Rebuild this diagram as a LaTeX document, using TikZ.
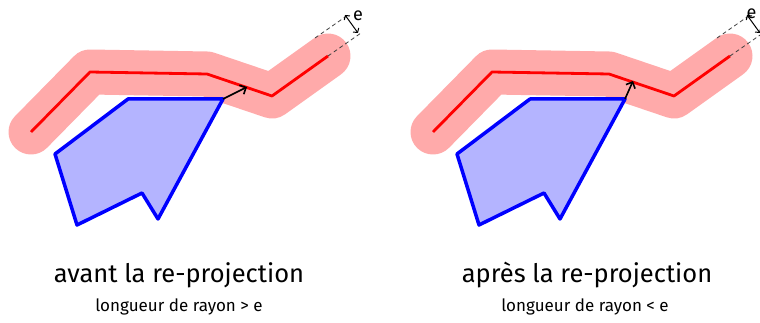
\documentclass[tikz,border=0pt]{standalone}
\usepackage{fontspec}
\setmainfont{Fira Sans}
\usetikzlibrary{arrows.meta,positioning}
\definecolor{bandpink}{RGB}{255,170,170}
\definecolor{polyfill}{RGB}{180,180,255}

\begin{document}
\begin{tikzpicture}[
    x=1pt, y=-1pt,
    band/.style={bandpink, line width=45pt, line cap=round, line join=round},
    path/.style={red, line width=2.8pt, line join=round},
    poly/.style={blue, fill=polyfill, line width=3.5pt, line join=round},
    ray/.style={-{Straight Barb[length=5pt,width=10pt]}, line width=1.6pt},
    guide/.style={dash pattern=on 4pt off 3pt, line width=0.8pt, black!75},
    dim/.style={{Straight Barb[length=3pt,width=7pt]}-{Straight Barb[length=3pt,width=7pt]}, line width=1pt},
    elabel/.style={font=\fontsize{18}{20}\selectfont},
    title/.style={font=\fontsize{25.5}{28}\selectfont, anchor=base},
    subtitle/.style={font=\fontsize{17}{20}\selectfont, anchor=base}
]
    \useasboundingbox (0,0) rectangle (760,323);

    % avant la re-projection
    \begin{scope}
        \coordinate (a1) at (31,132);
        \coordinate (a2) at (90,72);
        \coordinate (a3) at (207,74);
        \coordinate (a4) at (272,96);
        \coordinate (a5) at (328,56);
        \coordinate (p1) at (55,154);
        \coordinate (p2) at (128,99);
        \coordinate (p3) at (223,99);
        \coordinate (p4) at (158,219);
        \coordinate (p5) at (142,193);
        \coordinate (p6) at (77,225);
        \coordinate (hit) at (247,87);
        \coordinate (u0) at (315,38);
        \coordinate (u1) at (348,15);
        \coordinate (v1) at (361,33);
        \coordinate (du) at (345,15);
        \coordinate (dv) at (358,33);

        \draw[band] (a1) -- (a2) -- (a3) -- (a4) -- (a5);
        \draw[path] (a1) -- (a2) -- (a3) -- (a4) -- (a5);
        \draw[poly] (p1) -- (p2) -- (p3) -- (p4) -- (p5) -- (p6) -- cycle;
        \draw[ray] (p3) -- (hit);
        \draw[guide] (u0) -- (u1);
        \draw[guide] (a5) -- (v1);
        \draw[dim] (du) -- (dv);
        \node[elabel] (le) at (358,16) {e};

        \node[title] (t1) at (179,282) {avant la re-projection};
        \node[subtitle] (s1) at (179,311) {longueur de rayon > e};
    \end{scope}

    % après la re-projection
    \begin{scope}[xshift=402pt]
        \coordinate (b1) at (31,132);
        \coordinate (b2) at (90,72);
        \coordinate (b3) at (207,74);
        \coordinate (b4) at (272,96);
        \coordinate (b5) at (328,56);
        \coordinate (q1) at (55,154);
        \coordinate (q2) at (128,99);
        \coordinate (q3) at (223,99);
        \coordinate (q4) at (158,219);
        \coordinate (q5) at (142,193);
        \coordinate (q6) at (77,225);
        \coordinate (foot) at (231,81);
        \coordinate (w0) at (315,38);
        \coordinate (w1) at (348,15);
        \coordinate (z1) at (361,33);
        \coordinate (dw) at (345,15);
        \coordinate (dz) at (358,33);

        \draw[band] (b1) -- (b2) -- (b3) -- (b4) -- (b5);
        \draw[path] (b1) -- (b2) -- (b3) -- (b4) -- (b5);
        \draw[poly] (q1) -- (q2) -- (q3) -- (q4) -- (q5) -- (q6) -- cycle;
        \draw[ray] (q3) -- (foot);
        \draw[guide] (w0) -- (w1);
        \draw[guide] (b5) -- (z1);
        \draw[dim] (dw) -- (dz);
        \node[elabel, anchor=east] (re) at (358,14) {e};

        \node[title] (t2) at (185,282) {après la re-projection};
        \node[subtitle] (s2) at (183,311) {longueur de rayon < e};
    \end{scope}
\end{tikzpicture}
\end{document}
